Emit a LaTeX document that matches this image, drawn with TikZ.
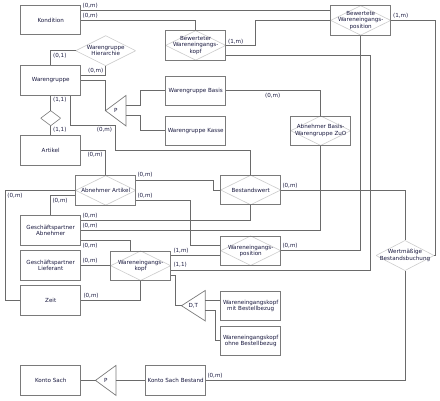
\documentclass[tikz,border=0pt]{standalone}
\usepackage{fontspec}
\newfontfamily\dfont{DejaVu Sans}
\usetikzlibrary{calc}
\definecolor{boxc}{HTML}{7A7A7A}
\definecolor{linec}{HTML}{6A6A6A}
\definecolor{diac}{HTML}{CCCCCC}
\definecolor{txtc}{HTML}{1A1A40}
\begin{document}
\begin{tikzpicture}[x=1pt,y=-1pt,
 every node/.style={font=\dfont\fontsize{5.6}{6.5}\selectfont, text=txtc},
 ent/.style={draw=boxc, line width=0.7pt, fill=white, minimum width=60pt, minimum height=29.5pt, inner sep=0pt, align=center},
 dpic/.style={path picture={\draw[#1,line width=0.6pt] (path picture bounding box.west)--(path picture bounding box.north)--(path picture bounding box.east)--(path picture bounding box.south)--cycle;}},
 erel/.style={ent, dpic=diac},
 rel/.style={inner sep=0pt, align=center, dpic=#1},
 tri/.style={inner sep=0pt, minimum height=30pt},
 conn/.style={draw=linec, line width=0.7pt},
 lab/.style={anchor=west, inner sep=0pt}
]
\useasboundingbox (0,0) rectangle (440,400);

% entities
\node[ent] (kond) at (50.7,20) {Kondition};
\node[ent] (wg) at (50.7,80.4) {Warengruppe};
\node[ent] (art) at (50.7,150.4) {Artikel};
\node[ent] (gpa) at (50.7,230.4) {Geschäftspartner\\Abnehmer};
\node[ent] (gpl) at (50.7,265.4) {Geschäftspartner\\Lieferant};
\node[ent] (zeit) at (50.7,300.4) {Zeit};
\node[ent] (ks) at (50.7,380.4) {Konto Sach};
\node[ent] (wgb) at (195.7,90.7) {Warengruppe Basis};
\node[ent] (wgk) at (195.7,130.7) {Warengruppe Kasse};
\node[ent] (wkmb) at (250.7,305.7) {Wareneingangskopf\\mit Bestellbezug};
\node[ent] (wkob) at (250.7,340.7) {Wareneingangskopf\\ohne Bestellbezug};
\node[ent] (ksb) at (175.7,380.4) {Konto Sach Bestand};

% entity-relationship types (boxed diamonds)
\node[erel] (bwep) at (360.7,20.4) {Bewertete\\Wareneingangs-\\position};
\node[erel] (bwek) at (195.7,45.4) {Bewerteter\\Wareneingangs-\\kopf};
\node[erel] (abwz) at (320.7,130.7) {Abnehmer Basis-\\Warengruppe ZuO};
\node[erel] (aa) at (105.7,190.4) {Abnehmer Artikel};
\node[erel] (bw) at (250.7,190) {Bestandswert};
\node[erel] (wep) at (250.7,250.7) {Wareneingangs-\\position};
\node[erel] (wek) at (140.7,265.7) {Wareneingangs-\\kopf};

% relationship types (diamonds)
\node[rel=diac, minimum width=60pt, minimum height=30pt] (wgh) at (105.7,50.7) {Warengruppe\\Hierarchie};
\node[rel=diac, minimum width=58pt, minimum height=30pt] (wmb) at (405,255.5) {Wertmäßige\\Bestandsbuchung};
\node[rel=boxc, minimum width=20pt, minimum height=15pt] (sd) at (50.7,118.2) {};

% generalisation triangles
\node[tri, minimum width=20pt] (p1) at (115.7,110.7) {P};
\node[tri, minimum width=23.3pt] (dt) at (193.35,305.7) {D,T};
\node[tri, minimum width=20pt, minimum height=29.5pt] (p2) at (105.7,380.4) {P};
\foreach \t in {p1,dt,p2}{
  \draw[boxc, line width=0.7pt] (\t.west) -- (\t.north east) -- (\t.south east) -- cycle;
}

% connectors
\draw[conn] ($(kond.east)+(0,-9.3)$) -- ($(bwep.west)+(0,-9.7)$);
\draw[conn] (kond.east) -| (bwek.north);
\draw[conn] (bwek.east) -- (255,45.4) |- (bwep.west);
\draw[conn] (bwep.east) -- (435,20.4) |- (wmb.east);
\draw[conn] ($(bwek.east)+(0,10.3)$) -- (370.7,55.7) |- ($(wek.east)+(0,4.3)$);
\draw[conn] (bwep.south) |- (wep.east);
\draw[conn] (wg.north) |- (wgh.west);
\draw[conn] ($(wg.east)+(0,-4.7)$) -| (wgh.south);
\draw[conn] (wg.east) -| (p1.west);
\draw[conn] ($(p1.east)+(0,-5)$) -- (140.7,105.7) |- (wgb.west);
\draw[conn] ($(p1.east)+(0,5)$) -- (140.7,115.7) |- (wgk.west);
\draw[conn] (wgb.east) -| (abwz.north);
\draw[conn] (wg.south) -- (sd.north);
\draw[conn] (sd.south) -- (art.north);
\draw[conn] ($(wg.south)+(20,0)$) -- (70.7,125.7) -- (115,125.7) -- (115,150.7) -| (bw.north);
\draw[conn] (art.east) -| (aa.north);
\draw[conn] ($(aa.east)+(0,-10)$) -- (213,180.4) |- (bw.west);
\draw[conn] ($(aa.east)+(0,10)$) -- (190.7,200.4) |- ($(wep.west)+(0,-5.7)$);
\draw[conn] (zeit.west) -- (5,300.4) |- (aa.west);
\draw[conn] (gpa.north) |- ($(aa.west)+(0,5.3)$);
\draw[conn] ($(gpa.east)+(0,-9.7)$) -| (bw.south);
\draw[conn] ($(gpa.east)+(0,0.3)$) -| (abwz.south);
\draw[conn] ($(gpa.east)+(0,9.6)$) -| ($(wek.north)+(-10,0)$);
\draw[conn] (gpl.east) -- (wek.west |- gpl.east);
\draw[conn] (zeit.east) -| (wek.south);
\draw[conn] ($(wek.east)+(0,-10)$) -- ($(wep.west)+(0,5)$);
\draw[conn] ($(wek.east)+(0,9.3)$) -- (175,275) |- (dt.west);
\draw[conn] ($(dt.east)+(0,-5)$) -- ($(wkmb.west)+(0,-5)$);
\draw[conn] ($(dt.east)+(0,5)$) -- (215,310.7) |- (wkob.west);
\draw[conn] (ks.east) -- (p2.west);
\draw[conn] (p2.east) -- (ksb.west);
\draw[conn] (ksb.east) -| (wmb.south);
\draw[conn] (bw.east) -| (wmb.north);

% cardinality labels
\node[lab] (l1) at (82.5,5.7) {(0,m)};
\node[lab] (l2) at (82.5,15.7) {(0,m)};
\node[lab] (l3) at (228,41.7) {(1,m)};
\node[lab] (l4) at (393,15.7) {(1,m)};
\node[lab] (l5) at (53,56) {(0,1)};
\node[lab] (l6) at (88,70.7) {(0,m)};
\node[lab] (l7) at (53,100) {(1,1)};
\node[lab] (l8) at (53,130) {(1,1)};
\node[lab] (l9) at (96.7,130) {(0,m)};
\node[lab] (l10) at (265,95.7) {(0,m)};
\node[lab] (l11) at (87.3,155) {(0,m)};
\node[lab] (l12) at (137.3,174.7) {(0,m)};
\node[lab] (l13) at (137.3,195.7) {(0,m)};
\node[lab] (l14) at (7.3,195.7) {(0,m)};
\node[lab] (l15) at (52.3,200.7) {(0,m)};
\node[lab] (l16) at (82.3,215.7) {(0,m)};
\node[lab] (l17) at (82.3,225.7) {(0,m)};
\node[lab] (l18) at (82.3,245.7) {(0,m)};
\node[lab] (l19) at (82.3,260.7) {(0,m)};
\node[lab] (l20) at (173.3,250.7) {(1,m)};
\node[lab] (l21) at (173.3,265) {(1,1)};
\node[lab] (l22) at (83.3,295.7) {(0,m)};
\node[lab] (l23) at (282.3,185.7) {(0,m)};
\node[lab] (l24) at (282.3,245.7) {(0,m)};
\node[lab] (l25) at (207.3,375.7) {(0,m)};
\end{tikzpicture}
\end{document}
